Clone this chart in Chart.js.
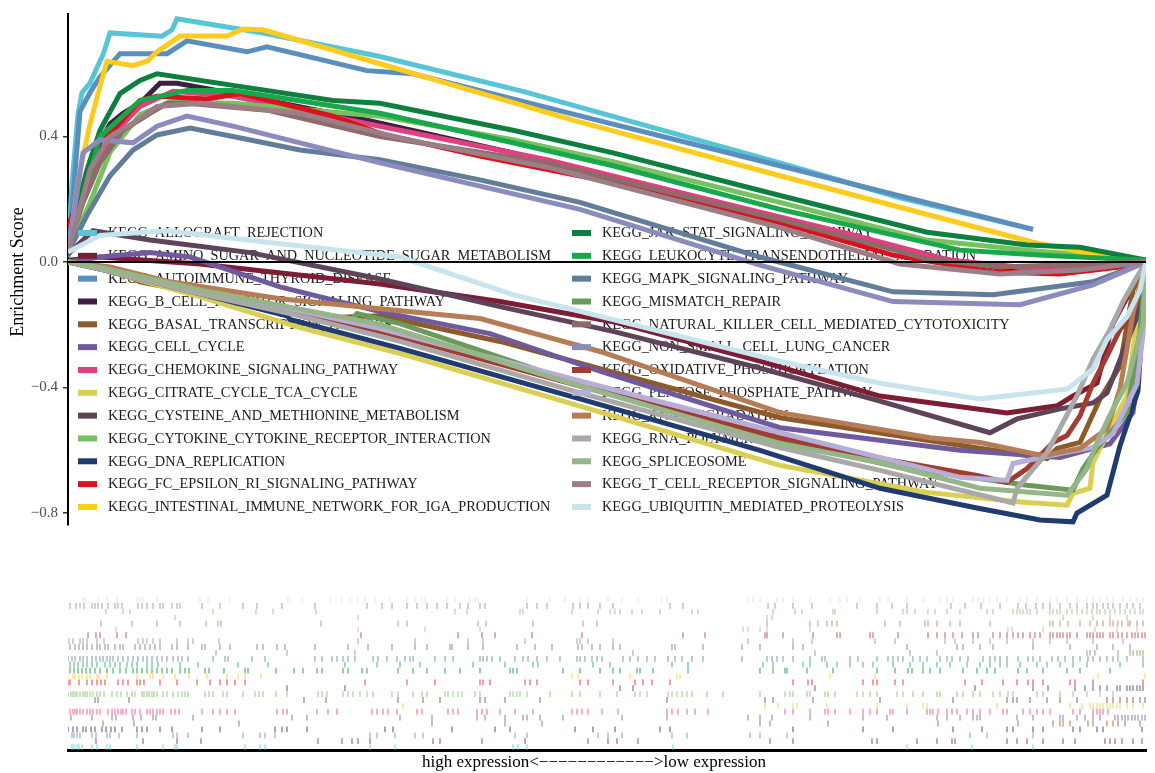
<!DOCTYPE html>
<html>
<head>
<meta charset="utf-8">
<script src="https://cdn.jsdelivr.net/npm/chart.js@4.4.1/dist/chart.umd.min.js"></script>
<style>
  html, body { margin: 0; padding: 0; background: #ffffff; }
  #wrap { position: relative; width: 1155px; height: 773px; }
  #es { position: absolute; left: 0; top: 0; }
  #rug { position: absolute; left: 0; top: 560px; }
</style>
</head>
<body>
<div id="wrap">
  <canvas id="es" width="1155" height="540"></canvas>
  <canvas id="rug" width="1155" height="213"></canvas>
</div>
<script>
// ---- gene sets and colours ----
const geneSets = [
  'KEGG_ALLOGRAFT_REJECTION',
  'KEGG_AMINO_SUGAR_AND_NUCLEOTIDE_SUGAR_METABOLISM',
  'KEGG_AUTOIMMUNE_THYROID_DISEASE',
  'KEGG_B_CELL_RECEPTOR_SIGNALING_PATHWAY',
  'KEGG_BASAL_TRANSCRIPTION_FACTORS',
  'KEGG_CELL_CYCLE',
  'KEGG_CHEMOKINE_SIGNALING_PATHWAY',
  'KEGG_CITRATE_CYCLE_TCA_CYCLE',
  'KEGG_CYSTEINE_AND_METHIONINE_METABOLISM',
  'KEGG_CYTOKINE_CYTOKINE_RECEPTOR_INTERACTION',
  'KEGG_DNA_REPLICATION',
  'KEGG_FC_EPSILON_RI_SIGNALING_PATHWAY',
  'KEGG_INTESTINAL_IMMUNE_NETWORK_FOR_IGA_PRODUCTION',
  'KEGG_JAK_STAT_SIGNALING_PATHWAY',
  'KEGG_LEUKOCYTE_TRANSENDOTHELIAL_MIGRATION',
  'KEGG_MAPK_SIGNALING_PATHWAY',
  'KEGG_MISMATCH_REPAIR',
  'KEGG_NATURAL_KILLER_CELL_MEDIATED_CYTOTOXICITY',
  'KEGG_NON_SMALL_CELL_LUNG_CANCER',
  'KEGG_OXIDATIVE_PHOSPHORYLATION',
  'KEGG_PENTOSE_PHOSPHATE_PATHWAY',
  'KEGG_RNA_DEGRADATION',
  'KEGG_RNA_POLYMERASE',
  'KEGG_SPLICEOSOME',
  'KEGG_T_CELL_RECEPTOR_SIGNALING_PATHWAY',
  'KEGG_UBIQUITIN_MEDIATED_PROTEOLYSIS'
];
const setColors = [
  '#56C5D6', '#7D1C35', '#5A8EBD', '#3E1F3F', '#8D5A2B', '#6F5A9E',
  '#E0407E', '#D9CF52', '#5D4458', '#76C260', '#1F3B70', '#D9121E',
  '#FFCC1E', '#0E7F3F', '#18A84B', '#627D9A', '#6A9B5A', '#8E6B6A',
  '#8B8BBE', '#A23B32', '#B6AED6', '#B57C55', '#A9A9A9', '#96B68A',
  '#9B7F86', '#C9E4EF'
];

const rankMax = 10780;                 // length of the ranked gene list
const yTicks = [-0.8, -0.4, 0.0, 0.4];
const esRange = [-0.838, 0.7905];
const xLabel = 'high expression<\u2212\u2212\u2212\u2212\u2212\u2212\u2212\u2212\u2212\u2212\u2212\u2212>low expression';

// ---- running enrichment scores: [rank, ES] ----
const esAllograft = [[0,0.03],[40,0.25],[100,0.47],[140,0.54],[220,0.57],[290,0.62],[350,0.66],[420,0.73],[940,0.72],[1040,0.74],[1090,0.775],[1950,0.73],[3120,0.655],[4550,0.544],[7120,0.316],[8320,0.205],[9650,0.104]];
const esAminoSugar = [[0,0.006],[320,0.016],[1320,-0.006],[3120,-0.07],[4320,-0.126],[5450,-0.19],[6920,-0.316],[8120,-0.427],[9390,-0.481],[9890,-0.458],[10050,-0.427],[10290,-0.386],[10450,-0.196],[10620,-0.095],[10780,0]];
const esAutoimmune = [[0,0.016],[70,0.285],[120,0.48],[220,0.54],[320,0.59],[520,0.664],[990,0.664],[1190,0.705],[1790,0.67],[1990,0.686],[2990,0.61],[3450,0.60],[5320,0.45],[7120,0.307],[9650,0.104]];
const esBCell = [[0,0.03],[170,0.22],[320,0.38],[420,0.44],[550,0.474],[720,0.506],[920,0.57],[1090,0.57],[1650,0.537],[2990,0.452],[4450,0.348],[5450,0.27],[7120,0.126],[8620,0.016],[9320,-0.019],[10320,-0.006],[10780,0]];
const esBasal = [[0,0],[420,-0.019],[720,-0.063],[1650,-0.12],[2650,-0.177],[3120,-0.171],[4320,-0.253],[7120,-0.496],[9250,-0.60],[9790,-0.626],[9890,-0.594],[10120,-0.575],[10320,-0.436],[10520,-0.332],[10650,-0.089],[10780,0]];
const esCellCycle = [[0,0],[320,0.016],[820,0.03],[1220,0.016],[2120,-0.079],[3120,-0.158],[4220,-0.228],[5320,-0.348],[7120,-0.528],[8920,-0.60],[9920,-0.623],[10420,-0.579],[10650,-0.48],[10720,-0.30],[10780,0]];
const esChemokine = [[0,0.03],[190,0.25],[390,0.37],[550,0.44],[720,0.496],[1050,0.544],[1650,0.528],[3120,0.433],[4790,0.326],[6320,0.206],[7820,0.089],[8820,0.006],[9820,-0.025],[10780,0]];
const esCitrate = [[0,0],[350,-0.025],[1320,-0.111],[2320,-0.209],[3350,-0.294],[5120,-0.459],[7120,-0.648],[8590,-0.734],[9520,-0.765],[9990,-0.775],[10050,-0.737],[10220,-0.721],[10250,-0.639],[10450,-0.512],[10590,-0.427],[10650,-0.278],[10720,-0.111],[10780,0]];
const esCysteine = [[0,0.025],[250,0.10],[820,0.07],[1820,0.03],[3120,-0.054],[4320,-0.142],[5450,-0.221],[6920,-0.338],[8120,-0.443],[9220,-0.544],[9490,-0.50],[9920,-0.468],[10250,-0.449],[10390,-0.417],[10690,-0.174],[10780,0]];
const esCytokine = [[0,0.03],[220,0.19],[420,0.35],[720,0.47],[1020,0.51],[1650,0.506],[3120,0.465],[4450,0.39],[5450,0.32],[7120,0.19],[8590,0.07],[9590,0.038],[10780,0.006]];
const esDnaReplication = [[0,0],[350,-0.025],[1320,-0.101],[2190,-0.171],[2220,-0.183],[3320,-0.275],[5120,-0.436],[6920,-0.60],[8120,-0.721],[9090,-0.784],[9720,-0.822],[10050,-0.828],[10090,-0.80],[10390,-0.743],[10450,-0.67],[10520,-0.585],[10620,-0.49],[10700,-0.41],[10780,0]];
const esFcEpsilon = [[0,0.11],[120,0.22],[270,0.35],[350,0.40],[490,0.433],[720,0.515],[890,0.528],[1390,0.52],[1720,0.537],[2650,0.465],[3120,0.41],[4120,0.338],[5450,0.253],[7120,0.126],[8250,0.022],[9250,-0.032],[9920,-0.038],[10520,-0.016],[10780,0]];
const esIntestinal = [[0,0.03],[120,0.29],[220,0.44],[320,0.56],[390,0.64],[650,0.626],[790,0.64],[890,0.67],[1120,0.72],[1590,0.72],[1750,0.743],[1950,0.74],[3120,0.632],[5050,0.452],[7120,0.275],[9650,0.063],[10250,0.025],[10780,0]];
const esJakStat = [[0,0.063],[190,0.294],[320,0.42],[520,0.537],[720,0.579],[890,0.60],[1650,0.563],[2650,0.515],[3120,0.506],[4450,0.42],[5450,0.348],[7120,0.212],[8590,0.095],[9590,0.054],[10120,0.047],[10780,0.006]];
const esLeukocyte = [[0,0.047],[170,0.22],[320,0.40],[720,0.515],[1190,0.547],[1650,0.547],[3120,0.474],[4450,0.38],[5450,0.307],[7120,0.168],[8920,0.038],[9750,0.022],[10780,0.006]];
const esMapk = [[0,0.03],[190,0.149],[420,0.275],[650,0.357],[890,0.405],[1220,0.427],[1650,0.40],[2320,0.357],[3120,0.326],[4120,0.262],[5120,0.19],[6920,0.016],[8250,-0.095],[9250,-0.104],[10250,-0.063],[10780,0]];
const esMismatch = [[0,0],[350,-0.019],[1320,-0.095],[2820,-0.19],[2890,-0.164],[3320,-0.196],[5120,-0.389],[7120,-0.569],[8320,-0.655],[9590,-0.711],[10050,-0.727],[10150,-0.658],[10290,-0.594],[10590,-0.48],[10720,-0.221],[10780,0]];
const esNkCell = [[0,0.047],[150,0.19],[320,0.316],[550,0.42],[820,0.474],[990,0.506],[1190,0.506],[1990,0.484],[3120,0.40],[4790,0.316],[7120,0.136],[8590,0.01],[9320,-0.016],[10780,0]];
const esNonSmallCell = [[0,0.047],[50,0.136],[150,0.348],[320,0.39],[650,0.38],[890,0.433],[1190,0.465],[1650,0.433],[3120,0.316],[5120,0.168],[6920,-0.01],[8250,-0.126],[9520,-0.136],[10250,-0.073],[10780,0]];
const esOxidative = [[0,0],[350,-0.019],[1320,-0.089],[3120,-0.221],[5120,-0.395],[7120,-0.56],[8120,-0.626],[9090,-0.68],[9390,-0.702],[9590,-0.658],[9850,-0.575],[9990,-0.553],[10120,-0.49],[10250,-0.386],[10390,-0.30],[10520,-0.215],[10650,-0.164],[10780,0]];
const esPentose = [[0,0],[350,-0.019],[1320,-0.085],[3120,-0.212],[5120,-0.379],[7120,-0.544],[8920,-0.686],[9390,-0.696],[9450,-0.642],[9920,-0.61],[10250,-0.591],[10450,-0.547],[10690,-0.389],[10750,-0.231],[10780,0]];
const esRnaDegradation = [[0,0],[420,-0.016],[1020,-0.063],[2120,-0.117],[3120,-0.149],[4120,-0.18],[5320,-0.285],[7120,-0.48],[8620,-0.56],[9120,-0.575],[9750,-0.617],[10120,-0.594],[10390,-0.531],[10520,-0.405],[10650,-0.164],[10780,0]];
const esRnaPolymerase = [[0,0],[350,-0.025],[1320,-0.101],[2220,-0.164],[3320,-0.253],[5120,-0.417],[7120,-0.591],[8120,-0.664],[9450,-0.768],[9490,-0.721],[9790,-0.607],[10090,-0.427],[10250,-0.31],[10420,-0.215],[10550,-0.126],[10690,-0.047],[10780,0]];
const esSpliceosome = [[0,0],[350,-0.019],[1320,-0.089],[2190,-0.142],[3120,-0.199],[5120,-0.395],[7120,-0.579],[8120,-0.639],[9120,-0.721],[9990,-0.743],[10190,-0.658],[10290,-0.575],[10450,-0.468],[10590,-0.386],[10750,-0.196],[10780,0]];
const esTCell = [[0,0.03],[90,0.136],[220,0.294],[420,0.40],[650,0.443],[890,0.496],[1320,0.506],[2320,0.474],[3320,0.395],[4820,0.30],[7120,0.11],[8320,-0.006],[9320,-0.038],[10120,-0.025],[10780,0]];
const esUbiquitin = [[0,0.032],[320,0.085],[990,0.10],[1990,0.063],[3320,0.016],[4450,-0.104],[7120,-0.316],[8120,-0.386],[9120,-0.436],[9990,-0.405],[10250,-0.341],[10390,-0.247],[10590,-0.174],[10720,-0.089],[10780,0]];

// ---- positions of gene-set members in the ranked list ----
const hitsAllograft = [40,60,90,110,140,240,290,390,420,690,950,1070,1090,1770,1920,1970,3020,3270,4450,4500,4590,6050,8390,9040,9650];
const hitsAminoSugar = [280,750,1090,1330,2500,2740,2840,2900,3020,3650,3720,4140,4570,5200,5400,5490,5700,7020,7250,8040,8090,8490,8690,8840,8870,9390,9490,9590,9750,9950,10070,10370,10420,10470,10540,10650,10740];
const hitsAutoimmune = [40,60,90,120,240,280,390,420,510,690,1050,1090,1200,1750,1920,1970,2070,3020,3090,3270,3470,3550,4470,4590,5300,5400,5540,6040,6190,6820,6920,7190,9020,9190,9650];
const hitsBCell = [0,50,90,150,180,230,270,340,380,430,470,540,690,740,790,920,1040,1340,1520,2070,2140,2190,2390,3170,3250,3840,4270,4420,5070,5250,5470,5920,6020,7250,7950,8250,8850,9140,9390,9450,9650,9750,10050,10120,10290,10350,10740];
const hitsBasal = [350,660,1710,3640,4370,4740,6920,7020,7600,8700,9500,9850,9920,9950,10020,10200,10250,10390,10450,10500,10570,10720];
const hitsCellCycle = [30,240,440,480,650,730,850,880,1250,2240,2390,3320,3640,4090,4170,4370,4550,4590,4720,4950,5540,5990,6800,6920,7040,7420,7950,8190,8690,8790,8920,9050,9090,9120,9490,9650,9920,9950,10090,10170,10250,10320,10470,10500,10540,10570,10600,10640,10670,10700,10740,10770];
const hitsChemokine = [20,50,70,90,120,150,190,220,250,290,320,400,440,470,500,530,550,580,640,670,720,790,820,850,890,920,950,1030,1070,1110,1340,1450,1520,1590,1670,2090,2150,2190,2490,2600,2690,3040,3090,3150,3200,3290,3490,3540,3800,3850,3900,4090,4140,4190,4320,4470,4650,5040,5090,5140,5200,5340,5500,5990,6040,6100,6190,6270,6400,7170,7250,7420,7570,7600,7670,7820,7950,8020,8090,8220,8250,8390,8590,8620,8650,8700,8790,8840,8890,8990,9050,9120,9220,9350,9390,9550,9620,9690,9750,9820,10050,10120,10250,10290,10320,10350,10400];
const hitsCitrate = [3350,6970,7100,7250,7290,7590,8090,8390,8550,8590,9290,10020,10140,10220,10250,10290,10320,10350,10390,10420,10450,10490,10520,10590,10650,10750];
const hitsCysteine = [270,300,610,2360,2580,3300,3550,3720,4120,4170,4370,4720,5990,6970,7050,7450,8120,8850,9390,9450,9490,9620,9790,9920,10090,10390,10450,10520,10590,10650,10720,10770];
const hitsCytokine = [0,30,50,70,90,120,150,170,190,220,250,290,320,360,440,490,530,590,640,670,740,760,790,810,840,860,890,950,990,1050,1100,1140,1170,1200,1370,1410,1450,1550,1590,1750,1870,1910,1950,2080,2190,2500,2540,2590,2750,2800,2850,2920,2990,3050,3240,3300,3450,3540,3590,3770,3800,3850,3900,3940,4070,4120,4420,4450,4490,4520,4590,4820,5040,5120,5320,5490,5670,5720,5790,6000,6040,6090,6140,6190,6240,6390,6550,6920,7170,7220,7250,7390,7420,7570,7600,7670,7890,7950,8020,8090,8290,8350,8450,8550,8690,8720,8890,8950,9050,9120,9250,9320,9400,9450,9690,9750,9920,10050,10190,10320,10450];
const hitsDnaReplication = [2190,2770,5520,5650,7470,9070,9650,9800,10070,10170,10250,10320,10390,10490,10520,10590,10620,10650,10690,10720,10750];
const hitsFcEpsilon = [0,20,110,190,240,290,330,370,500,550,600,690,720,760,920,1090,1290,1420,1520,1590,1670,1770,2970,3390,3670,4120,4150,4220,4570,4620,4690,5120,5200,5450,5670,5750,5840,6020,7250,7400,7440,7950,8050,8090,8270,8350,8970,9140,9350,9490,9600,9650,9750,10020,10070,10250,10750];
const hitsIntestinal = [50,70,110,140,190,220,290,310,390,690,820,850,950,1070,1210,1390,1590,1700,1770,1930,5040,5100,5620,6090,6120,7620,8070,10300,10770];
const hitsJakStat = [20,60,100,140,180,220,270,320,390,450,520,580,650,690,740,790,840,890,940,990,1040,1120,1170,1210,1370,1410,1560,1770,1800,2080,2260,2350,2490,2540,2750,2800,2940,2990,3300,3450,3590,3770,3920,4120,4420,4450,4490,4950,5120,5320,5450,5520,5690,5720,5850,6200,6920,7050,7170,7190,7390,7650,8090,8270,8400,8440,8550,8620,8720,8950,9090,9190,9270,9500,9590,9750,9990,10120,10420];
const hitsLeukocyte = [20,60,100,150,190,240,290,370,420,470,520,590,640,690,790,840,900,1120,1300,1700,2000,2770,3090,3320,3520,4050,4370,4650,4700,5250,5420,6040,6200,6950,7050,7350,7420,7590,7690,7820,7950,8050,8250,8420,8550,8690,8820,8990,9120,9220,9320,9390,9520,9690,9790,9920,10050,10190,10520,10750];
const hitsMapk = [0,40,70,120,150,190,240,280,320,350,390,420,450,500,550,600,650,700,750,790,840,890,940,990,1050,1100,1140,1200,1450,1570,1600,1840,1970,2470,2540,2640,2690,2750,2800,2870,3050,3100,3190,3290,3370,3420,3450,3670,3770,3850,4120,4150,4190,4240,4320,4470,4550,4600,4690,4790,4920,5090,5120,5170,5240,5290,5340,5550,5620,5700,5790,5870,6000,6070,6140,6240,6350,6740,6990,7040,7090,7150,7250,7420,7540,7570,7820,7900,8090,8200,8250,8300,8350,8450,8520,8590,8720,8790,8840,8920,9000,9150,9220,9270,9320,9390,9500,9600,9650,9720,9840,9900,9970,10050,10120,10200,10250,10320,10390,10450,10500,10590,10750];
const hitsMismatch = [1480,2190,2870,5650,7470,8420,8690,10190,10220,10270,10500,10620,10650,10690,10720,10750];
const hitsNkCell = [20,70,110,150,190,240,290,320,370,400,470,520,550,670,720,770,820,870,920,1040,1090,1200,1340,1370,1520,1620,1890,1950,2090,2170,2470,2800,3000,3240,3470,3590,3820,3840,4000,4150,4490,4670,4840,5100,5140,5240,5320,5450,5520,6040,6070,6350,6740,6920,7250,7350,8390,8890,8950,9120,9250,9650,10020,10290,10450,10620];
const hitsNonSmallCell = [10,50,120,150,190,290,360,700,750,790,850,920,1090,1200,1250,1510,2900,3470,4000,4150,4570,5090,5120,5200,5450,6800,7250,7440,8070,8270,8770,8870,9050,9220,9390,9650,9820,9990,10250,10550];
const hitsOxidative = [200,280,320,490,580,2930,3900,4140,4270,4640,5140,6150,6370,6970,6990,7150,7450,7690,7720,8020,8050,8300,8600,8690,8770,8850,8940,9050,9100,9250,9320,9390,9450,9500,9550,9620,9670,9720,9820,9850,9890,9920,9950,9990,10020,10090,10190,10220,10250,10290,10320,10350,10420,10450,10500,10540,10590,10640,10670,10700,10740,10770];
const hitsPentose = [480,2900,3570,4120,6750,6800,6920,6990,7420,9400,9440,9750,10270,10490,10690];
const hitsRnaDegradation = [330,640,890,1120,1380,1500,1530,2530,3300,3390,4100,4180,4650,5150,5290,6990,7420,7500,7590,7640,7690,8170,8320,8570,8600,8690,8820,8920,9220,9820,9850,9920,10000,10120,10220,10290,10350,10420,10450,10500,10540,10600,10620,10690,10750];
const hitsRnaPolymerase = [1070,2900,6990,7040,9950,10250,10420,10590];
const hitsSpliceosome = [380,550,620,1450,1880,2050,2480,3870,3990,4520,4550,5040,5300,5420,5470,5520,5640,5740,5920,6240,6300,7050,7270,7340,7650,7670,8090,8350,8390,8470,8600,8670,8790,8920,9190,9250,9450,9490,9520,9550,9590,9620,9690,9820,9850,9890,9920,9990,10040,10090,10140,10190,10240,10290,10320,10370,10420,10470,10520,10570,10620,10670,10720,10750];
const hitsTCell = [20,80,120,160,240,270,300,340,400,470,500,540,700,740,790,850,920,950,1040,1090,1120,1340,1520,1750,1890,2140,2470,2990,3140,3240,3390,3490,3590,3690,3790,3920,4000,4120,4170,4590,4690,4790,5050,5120,5200,5320,5450,6020,6150,7000,7070,7250,7440,7890,8090,8240,8390,8830,8970,9130,9320,9500,9580,9680,9750,9820,9920,10020,10090,10190,10250,10290,10350,10400,10450,10520,10590,10650,10720];
const hitsUbiquitin = [150,170,300,390,490,690,720,750,890,1320,1400,1620,2200,2340,2620,2740,2820,2900,2970,3070,3220,3390,3470,3540,3570,3790,3870,4020,4070,4100,4590,4820,4970,5120,5200,5400,5540,5700,5940,5990,6800,6850,6920,7090,7150,7250,7420,7620,7720,7790,7920,8120,8200,8390,8550,8720,8790,8850,9050,9100,9150,9220,9290,9390,9520,9590,9690,9820,9890,9990,10090,10190,10250,10320,10390,10450,10550,10620,10690,10750];

const esData = [esAllograft, esAminoSugar, esAutoimmune, esBCell, esBasal, esCellCycle,
  esChemokine, esCitrate, esCysteine, esCytokine, esDnaReplication, esFcEpsilon,
  esIntestinal, esJakStat, esLeukocyte, esMapk, esMismatch, esNkCell, esNonSmallCell,
  esOxidative, esPentose, esRnaDegradation, esRnaPolymerase, esSpliceosome, esTCell, esUbiquitin];
const hitData = [hitsAllograft, hitsAminoSugar, hitsAutoimmune, hitsBCell, hitsBasal, hitsCellCycle,
  hitsChemokine, hitsCitrate, hitsCysteine, hitsCytokine, hitsDnaReplication, hitsFcEpsilon,
  hitsIntestinal, hitsJakStat, hitsLeukocyte, hitsMapk, hitsMismatch, hitsNkCell, hitsNonSmallCell,
  hitsOxidative, hitsPentose, hitsRnaDegradation, hitsRnaPolymerase, hitsSpliceosome, hitsTCell, hitsUbiquitin];

const SERIF = '"Liberation Serif", "Times New Roman", serif';

function rgba(hex, a) {
  const n = parseInt(hex.slice(1), 16);
  return 'rgba(' + ((n >> 16) & 255) + ',' + ((n >> 8) & 255) + ',' + (n & 255) + ',' + a + ')';
}
function fmtTick(v) {
  if (Math.abs(v) < 1e-9) return '0.0';
  return (v < 0 ? '\u2212' : '') + Math.abs(v).toFixed(1);
}

// ---- two-column legend inside the score panel ----
const legendLayout = {
  perColumn: 13, firstY: 233, step: 22.83,
  columns: [{ keyX: 78, textX: 108 }, { keyX: 572, textX: 602 }],
  keyW: 19, keyH: 6, font: '14.3px ' + SERIF
};
function legendPos(i) {
  const c = Math.floor(i / legendLayout.perColumn);
  const r = i % legendLayout.perColumn;
  return { col: legendLayout.columns[c], y: legendLayout.firstY + r * legendLayout.step };
}
const legendPlugin = {
  id: 'gseaLegend',
  beforeDatasetsDraw(chart) {
    const ctx = chart.ctx;
    ctx.save();
    ctx.font = legendLayout.font;
    ctx.fillStyle = '#1a1a1a';
    ctx.textAlign = 'left';
    ctx.textBaseline = 'middle';
    geneSets.forEach((name, i) => {
      const p = legendPos(i);
      ctx.fillText(name, p.col.textX, p.y + 0.5);
    });
    ctx.restore();
  },
  afterDatasetsDraw(chart) {
    const ctx = chart.ctx;
    ctx.save();
    geneSets.forEach((name, i) => {
      const p = legendPos(i);
      ctx.fillStyle = setColors[i];
      ctx.fillRect(p.col.keyX, p.y - legendLayout.keyH / 2, legendLayout.keyW, legendLayout.keyH);
    });
    ctx.restore();
  }
};
const yTitlePlugin = {
  id: 'yTitle',
  afterDraw(chart) {
    const ctx = chart.ctx;
    ctx.save();
    ctx.translate(18.5, 272);
    ctx.rotate(-Math.PI / 2);
    ctx.font = '18px ' + SERIF;
    ctx.fillStyle = '#000';
    ctx.textAlign = 'center';
    ctx.textBaseline = 'middle';
    ctx.fillText('Enrichment Score', 0, 0);
    ctx.restore();
  }
};
const xTitlePlugin = {
  id: 'xTitle',
  afterDraw(chart) {
    const ctx = chart.ctx;
    ctx.save();
    ctx.font = '17px ' + SERIF;
    ctx.fillStyle = '#000';
    ctx.textAlign = 'center';
    ctx.textBaseline = 'middle';
    ctx.fillText(xLabel, 594, 203);
    ctx.restore();
  }
};

// ---- running enrichment score panel ----
const esDatasets = geneSets.map((name, i) => ({
  label: name,
  data: esData[i],
  borderColor: setColors[i],
  borderWidth: 5,
  pointRadius: 0,
  tension: 0,
  fill: false,
  borderJoinStyle: 'miter',
  borderCapStyle: 'butt',
  order: geneSets.length - i
}));
esDatasets.push({
  label: 'baseline',
  data: [[0, 0], [rankMax, 0]],
  borderColor: '#000000',
  borderWidth: 2,
  pointRadius: 0,
  order: 0
});

new Chart(document.getElementById('es'), {
  type: 'line',
  data: { datasets: esDatasets },
  options: {
    responsive: false,
    animation: false,
    events: [],
    layout: { padding: { top: 10, right: 9, bottom: 15, left: 0 } },
    plugins: { legend: { display: false }, tooltip: { enabled: false } },
    scales: {
      x: { type: 'linear', min: 0, max: rankMax, display: false },
      y: {
        type: 'linear',
        min: esRange[0],
        max: esRange[1],
        afterBuildTicks: (s) => { s.ticks = yTicks.map(v => ({ value: v })); },
        afterFit: (s) => { s.width = 68; },
        grid: { display: true, drawOnChartArea: false, drawTicks: true, tickLength: 5, color: '#333333', lineWidth: 1.5 },
        border: { display: true, color: '#000000', width: 2 },
        ticks: { padding: 5, color: '#4d4d4d', font: { family: SERIF, size: 15 }, callback: (v) => fmtTick(v) }
      }
    }
  },
  plugins: [legendPlugin, yTitlePlugin]
});

// ---- hit (rug) panel: one row per gene set ----
const rugDatasets = geneSets.map((name, i) => ({
  label: name,
  data: hitData[i].map(r => ({ x: r, y: i })),
  showLine: false,
  pointStyle: 'line',
  pointRotation: 90,
  pointRadius: 2.9,
  pointBorderWidth: 1.3,
  pointBorderColor: rgba(setColors[i], 0.62),
  pointBackgroundColor: rgba(setColors[i], 0.62)
}));

new Chart(document.getElementById('rug'), {
  type: 'scatter',
  data: { datasets: rugDatasets },
  options: {
    responsive: false,
    animation: false,
    events: [],
    layout: { padding: { top: 37, right: 9, bottom: 0, left: 68 } },
    plugins: { legend: { display: false }, tooltip: { enabled: false } },
    scales: {
      x: {
        type: 'linear', min: 0, max: rankMax,
        ticks: { display: false },
        grid: { display: false, drawTicks: false },
        border: { display: true, color: '#000000', width: 3 },
        afterFit: (s) => { s.height = 23; }
      },
      y: { type: 'linear', min: -0.5, max: 25.5, display: false }
    }
  },
  plugins: [xTitlePlugin]
});
</script>
</body>
</html>
